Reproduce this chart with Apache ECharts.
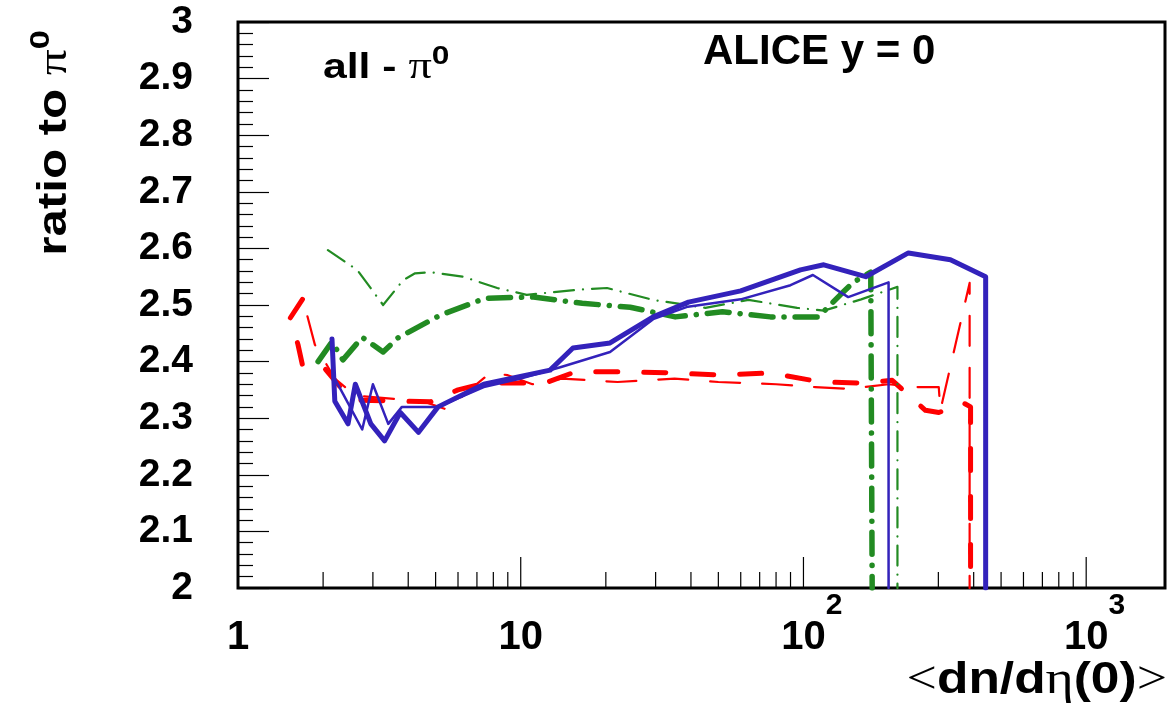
<!DOCTYPE html>
<html>
<head>
<meta charset="utf-8">
<script src="https://cdn.jsdelivr.net/npm/echarts@6/dist/echarts.min.js"></script>
<style>
  html, body { margin: 0; padding: 0; background: #fff; }
  #chart { width: 1176px; height: 713px; }
</style>
</head>
<body>
<div id="chart"></div>
<script>
// Particle-to-pi0 ratio versus mean multiplicity <dn/deta(0)>, ALICE, y = 0

// x axis: mean multiplicity (log), y axis: ratio to pi0
const xRange = [1, 1900];
const yRange = [2, 3];
const xMajorTicks = [10, 100, 1000];
const xMinorTicks = [2, 3, 4, 5, 6, 7, 8, 9, 20, 30, 40, 50, 60, 70, 80, 90, 200, 300, 400, 500, 600, 700, 800, 900];
const xTickLabels = [[1, '1', ''], [10, '10', ''], [100, '10', '2'], [1000, '10', '3']];

// thick blue solid
const blueThick = [
  [2.15, 2.44], [2.2, 2.33], [2.45, 2.29], [2.6, 2.36], [2.95, 2.29], [3.3, 2.26],
  [3.75, 2.31], [4.35, 2.275], [5.1, 2.32], [7.4, 2.36], [12.7, 2.385], [15.3, 2.424],
  [20.7, 2.433], [29.4, 2.479], [39.2, 2.505], [60, 2.525], [97.6, 2.562], [118, 2.571],
  [166, 2.55], [235, 2.592], [331, 2.58], [441, 2.55], [441, 2.0]
];
// thin blue solid
const blueThin = [
  [2.2, 2.37], [2.75, 2.28], [3.0, 2.36], [3.4, 2.29], [3.8, 2.32], [5.1, 2.32],
  [7.4, 2.355], [10, 2.37], [13.8, 2.39], [20.7, 2.417], [29.4, 2.475], [39, 2.497],
  [60, 2.51], [90, 2.535], [108, 2.553], [144, 2.514], [200, 2.54], [200, 2.0]
];
// thick green dash-dot
const greenThick = [
  [1.92, 2.40], [2.15, 2.435], [2.35, 2.403], [2.75, 2.443], [3.26, 2.417], [3.68, 2.442],
  [5.19, 2.482], [7.49, 2.512], [11.1, 2.514], [16.5, 2.503], [24.4, 2.496], [35.2, 2.479],
  [51.7, 2.488], [76.4, 2.479], [113, 2.479], [135, 2.518], [150, 2.54], [173, 2.558],
  [175, 2.56], [175, 2.0]
];
// thin green dash-dot
const greenThin = [
  [2.08, 2.597], [2.64, 2.562], [3.26, 2.5], [3.84, 2.544], [4.23, 2.556], [4.79, 2.558],
  [6.26, 2.55], [8.26, 2.53], [10.5, 2.518], [16, 2.527], [20.2, 2.53], [29.4, 2.509],
  [45, 2.495], [63.9, 2.509], [95, 2.495], [118, 2.49], [160, 2.51], [215, 2.532], [215, 2.0]
];
// thick red dashed
const redThick = [
  [1.69, 2.51], [1.53, 2.477], [1.63, 2.43], [1.69, 2.394], [1.98, 2.394], [2.3, 2.355],
  [2.66, 2.332], [4.8, 2.329], [6.0, 2.35], [7.5, 2.362], [10.8, 2.362], [12.5, 2.364],
  [15.6, 2.382], [23, 2.382], [35, 2.38], [51, 2.376], [76, 2.38], [115, 2.364],
  [166, 2.362], [206, 2.367], [270, 2.314], [301, 2.31], [368, 2.327], [390, 2.32], [390, 2.0]
];
// thin red long-dashed
const redThin = [
  [1.76, 2.48], [1.87, 2.43], [2.2, 2.37], [2.6, 2.34], [4.5, 2.33], [5.5, 2.315],
  [6.6, 2.35], [7.8, 2.38], [9, 2.376], [11, 2.36], [14, 2.37], [22, 2.364], [35, 2.37],
  [50, 2.364], [80, 2.36], [110, 2.355], [144, 2.352], [200, 2.36], [253, 2.355],
  [301, 2.355], [305, 2.314], [387, 2.539], [387, 2.0]
];

const FONT = '"Liberation Sans", Arial, Helvetica, sans-serif';
const SYM = '"Liberation Serif", "Times New Roman", serif';
const BLUE = '#3322bb';
const GREEN = '#228b22';
const RED = '#ff0000';

function curve(name, data, color, width, dash, z) {
  return {
    name: name,
    type: 'line',
    data: data,
    symbol: 'none',
    showSymbol: false,
    clip: true,
    z: z,
    animation: false,
    lineStyle: { color: color, width: width, type: dash, cap: 'round', join: 'round' }
  };
}

// axis tick marks along the bottom edge, placed through the log scale
function tickSeries(values, len) {
  return {
    type: 'custom',
    data: values.map(v => [v, yRange[0]]),
    silent: true,
    z: 1,
    animation: false,
    renderItem: function (params, api) {
      const p = api.coord([api.value(0), api.value(1)]);
      return {
        type: 'line',
        shape: { x1: p[0], y1: p[1], x2: p[0], y2: p[1] - len },
        style: { stroke: '#000', lineWidth: 1.2 }
      };
    }
  };
}

const labelMap = {};
xTickLabels.forEach(t => { labelMap[t[0]] = t; });

const chart = echarts.init(document.getElementById('chart'), null, { renderer: 'canvas' });
chart.setOption({
  backgroundColor: '#fff',
  animation: false,
  grid: {
    left: 238, right: 11, top: 22, bottom: 125,
    show: true, borderColor: '#000', borderWidth: 3, backgroundColor: 'transparent'
  },
  xAxis: {
    type: 'log',
    logBase: 10,
    min: xRange[0],
    max: xRange[1],
    axisLine: { show: false },
    axisTick: { show: false },
    splitLine: { show: false },
    minorTick: { show: false },
    axisLabel: {
      margin: 3,
      showMaxLabel: false,
      formatter: function (v) {
        const e = Math.round(Math.log10(v));
        if (Math.abs(Math.log10(v) - e) > 1e-6) return '';
        const t = labelMap[Math.pow(10, e)];
        if (!t) return '';
        if (t[2]) return '{bp|' + t[1] + '}{s|' + t[2] + '}';
        return '{b|' + t[1] + '}';
      },
      rich: {
        b: { fontFamily: FONT, fontWeight: 'bold', fontSize: 40, lineHeight: 94, color: '#000' },
        bp: { fontFamily: FONT, fontWeight: 'bold', fontSize: 40, lineHeight: 94, color: '#000', padding: [0, 0, 0, 17] },
        s: { fontFamily: FONT, fontWeight: 'bold', fontSize: 30, lineHeight: 46, verticalAlign: 'top', color: '#000' }
      }
    }
  },
  yAxis: {
    type: 'value',
    min: yRange[0],
    max: yRange[1],
    interval: 0.1,
    axisLine: { show: false },
    splitLine: { show: false },
    axisTick: { show: true, inside: true, length: 31, lineStyle: { color: '#000', width: 1.2 } },
    minorTick: { show: true, splitNumber: 5, length: 15, lineStyle: { color: '#000', width: 1.2 } },
    axisLabel: {
      margin: 45,
      color: '#000',
      fontFamily: FONT,
      fontWeight: 'bold',
      fontSize: 39
    }
  },
  series: [
    tickSeries(xMinorTicks, 16),
    tickSeries(xMajorTicks, 31),
    curve('red thin', redThin, RED, 2.2, [30, 22], 3),
    curve('red thick', redThick, RED, 5, [22, 26], 4),
    curve('green thin', greenThin, GREEN, 2.2, [20, 9, 0.1, 9], 5),
    curve('green thick', greenThick, GREEN, 5.5, [22, 11, 0.1, 11], 6),
    curve('blue thin', blueThin, BLUE, 2.5, 'solid', 7),
    curve('blue thick', blueThick, BLUE, 5, 'solid', 8)
  ],
  graphic: [
    {
      type: 'text', x: 323, y: 68, scaleX: 1.22,
      style: {
        text: '{a|all - }{p|π}{s|0}',
        verticalAlign: 'middle',
        rich: {
          a: { fontFamily: FONT, fontWeight: 'bold', fontSize: 35, lineHeight: 48, fill: '#000' },
          p: { fontFamily: SYM, fontSize: 38, lineHeight: 48, fill: '#000' },
          s: { fontFamily: FONT, fontWeight: 'bold', fontSize: 26, lineHeight: 26, verticalAlign: 'top', fill: '#000' }
        }
      }
    },
    {
      type: 'text', x: 703, y: 52,
      style: {
        text: 'ALICE y = 0',
        fontFamily: FONT, fontWeight: 'bold', fontSize: 42,
        verticalAlign: 'middle', fill: '#000'
      }
    },
    {
      type: 'text', x: 55, y: 30, rotation: Math.PI / 2, scaleX: 1.23,
      style: {
        text: '{a|ratio to }{p|π}{s|0}',
        align: 'right',
        verticalAlign: 'middle',
        rich: {
          a: { fontFamily: FONT, fontWeight: 'bold', fontSize: 40, lineHeight: 56, fill: '#000' },
          p: { fontFamily: SYM, fontSize: 42, lineHeight: 56, fill: '#000' },
          s: { fontFamily: FONT, fontWeight: 'bold', fontSize: 28, lineHeight: 28, verticalAlign: 'top', fill: '#000' }
        }
      }
    },
    {
      type: 'text', x: 1167, y: 681, scaleX: 1.17,
      style: {
        text: '{o|<}{a|dn/d}{p|η}{a|(0)}{o|>}',
        align: 'right',
        verticalAlign: 'middle',
        rich: {
          a: { fontFamily: FONT, fontWeight: 'bold', fontSize: 44, fill: '#000' },
          p: { fontFamily: SYM, fontSize: 46, fill: '#000' },
          o: { fontFamily: SYM, fontSize: 46, fill: '#000' }
        }
      }
    }
  ]
});
</script>
</body>
</html>
